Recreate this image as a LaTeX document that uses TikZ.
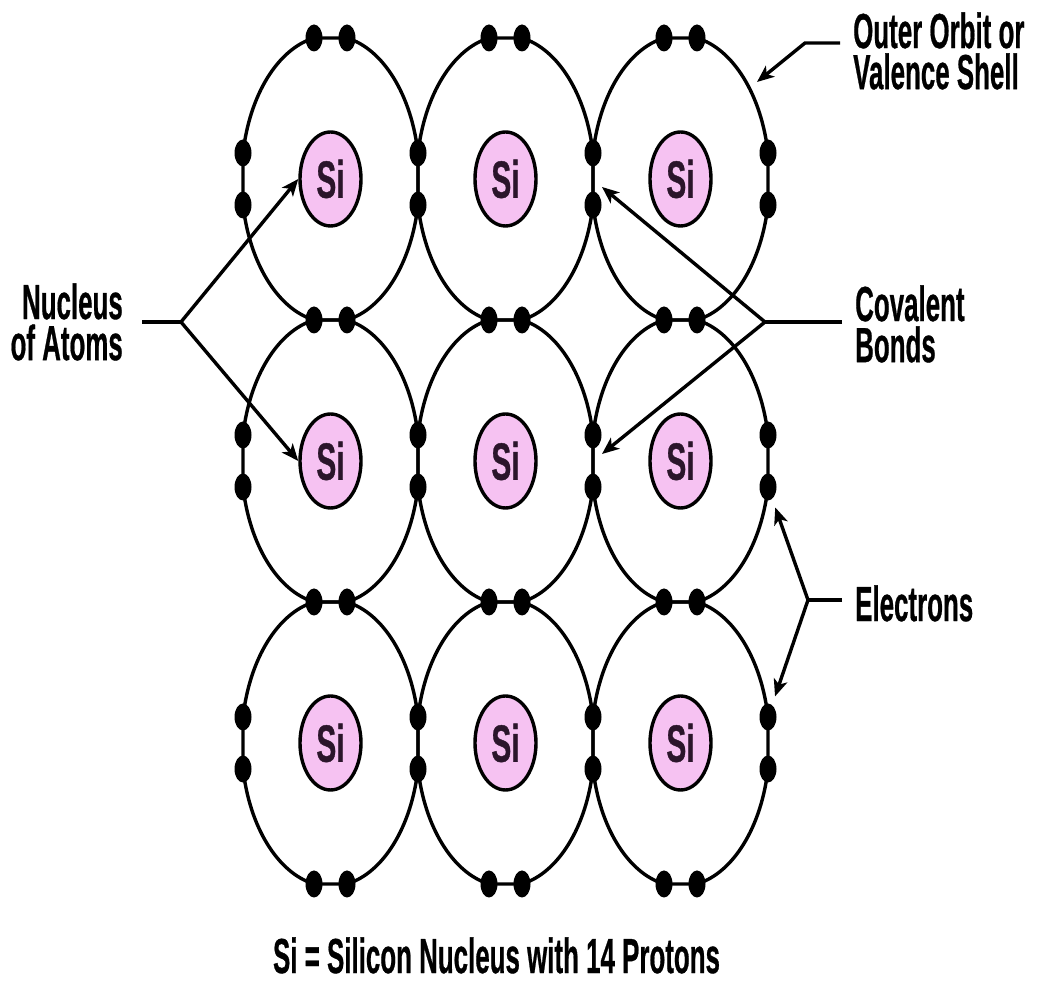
\documentclass[tikz,border=0pt]{standalone}
\usepackage{fontspec}
\setmainfont[BoldFeatures={FakeBold=0.8}]{Liberation Sans}
\usetikzlibrary{shapes.geometric, arrows.meta}

\definecolor{nucleusfill}{HTML}{F6C2F2}
\definecolor{nucleustext}{HTML}{2B152B}

\tikzset{
  orbitline/.style={line width=3.4pt, black},
  electron/.style={ellipse, fill=black, inner sep=0pt,
    minimum width=17pt, minimum height=27pt},
  nucleus/.style={ellipse, draw=black, line width=3.4pt, fill=nucleusfill,
    inner sep=0pt, minimum width=61pt, minimum height=94pt,
    font=\bfseries\fontsize{30}{30}\selectfont, text=nucleustext},
  callout/.style={line width=3.4pt, black},
  pointer/.style={callout, -{Stealth[length=17pt, width=14pt, inset=4.5pt]}},
  lbl/.style={inner sep=0pt, font=\bfseries\fontsize{25.9}{21.6}\selectfont,
    yscale=1.9, transform shape},
  % one valence shell (radii 88.97 x 143.49): four arcs joined by the straight bond segments
  pics/shell/.style={code={
    \draw[orbitline]
      (10.44:88.97 and 143.49)
        arc[start angle=10.44, end angle=79.31, x radius=88.97, y radius=143.49]
      -- (100.69:88.97 and 143.49)
        arc[start angle=100.69, end angle=169.56, x radius=88.97, y radius=143.49]
      -- (190.44:88.97 and 143.49)
        arc[start angle=190.44, end angle=259.31, x radius=88.97, y radius=143.49]
      -- (280.69:88.97 and 143.49)
        arc[start angle=280.69, end angle=349.56, x radius=88.97, y radius=143.49]
      -- cycle;
  }}
}

\begin{document}
\begin{tikzpicture}[x=1pt, y=1pt]
  \fill[white] (0,0) rectangle (1037,982);
  \useasboundingbox (0,0) rectangle (1037,982);

  % valence shells of the nine atoms
  \foreach \x in {330.5,505.5,680.5} {
    \foreach \y in {803,521,239} {
      \pic at (\x,\y) {shell};
    }
  }

  % electron pairs above and below each atom
  \foreach \x [count=\i] in {330.5,505.5,680.5} {
    \foreach \y [count=\k] in {944,662,380,98} {
      \node[electron] (eh-\i-\k-l) at (\x-16.5,\y) {};
      \node[electron] (eh-\i-\k-r) at (\x+16.5,\y) {};
    }
  }
  % electron pairs left and right of each atom
  \foreach \x [count=\j] in {243,418,593,768} {
    \foreach \y [count=\r] in {803,521,239} {
      \node[electron] (ev-\j-\r-u) at (\x,\y+26) {};
      \node[electron] (ev-\j-\r-d) at (\x,\y-26) {};
    }
  }

  % silicon nuclei
  \foreach \x [count=\i] in {330.5,505.5,680.5} {
    \foreach \y [count=\r] in {803,521,239} {
      \node[nucleus] (n\r\i) at (\x,\y) {\scalebox{1}[1.75]{Si}};
    }
  }

  % labels
  \node[lbl, anchor=north west, align=left] (outer) at (853,970) {Outer Orbit or\\Valence Shell};
  \node[lbl, anchor=north east, align=right] (nuclbl) at (123,699) {Nucleus\\of Atoms};
  \node[lbl, anchor=north west, align=left] (covlbl) at (855,697) {Covalent\\Bonds};
  \node[lbl, anchor=north west] (eleclbl) at (855,397) {Electrons};
  \node[lbl, anchor=north] (caption) at (496.5,45) {Si = Silicon Nucleus with 14 Protons};

  % outer orbit callout
  \coordinate (oo-end) at (840,939);
  \coordinate (oo-bend) at (805,939);
  \coordinate (oo-tip) at (757,900);
  \draw[pointer] (oo-end) -- (oo-bend) -- (oo-tip);

  % nucleus callout
  \coordinate (nu-end) at (142,660);
  \coordinate (nu-fork) at (181,660);
  \draw[callout] (nu-end) -- (nu-fork);
  \draw[pointer] (nu-fork) -- (n11.west);
  \draw[pointer] (nu-fork) -- (n21.west);

  % covalent bond callout
  \coordinate (cb-end) at (842,660);
  \coordinate (cb-fork) at (765,660);
  \coordinate (bond-a) at (602,795);
  \coordinate (bond-b) at (602,528);
  \draw[callout] (cb-end) -- (cb-fork);
  \draw[pointer] (cb-fork) -- (bond-a);
  \draw[pointer] (cb-fork) -- (bond-b);

  % electron callout
  \coordinate (el-end) at (842,382);
  \coordinate (el-fork) at (808,382);
  \draw[callout] (el-end) -- (el-fork);
  \draw[pointer, shorten >=9pt] (el-fork) -- (ev-4-2-d);
  \draw[pointer, shorten >=9pt] (el-fork) -- (ev-4-3-u);
\end{tikzpicture}
\end{document}
